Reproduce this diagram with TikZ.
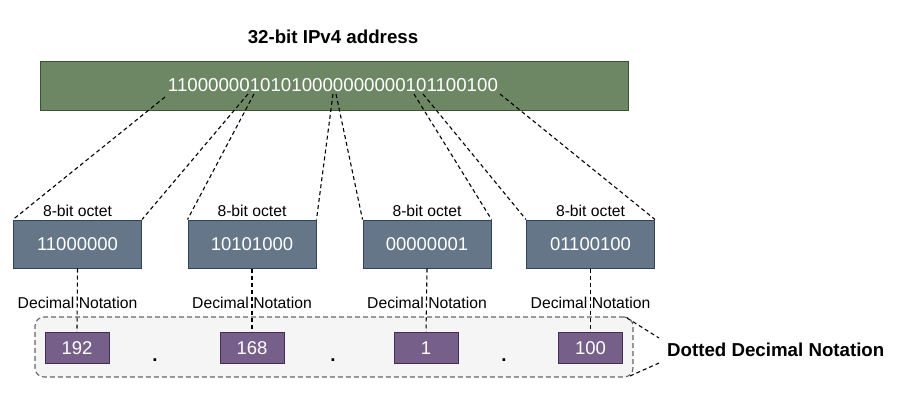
\documentclass[tikz,border=0pt]{standalone}
\usepackage{fontspec}
\setmainfont{Liberation Sans}
\definecolor{grF}{HTML}{6D8764}
\definecolor{grS}{HTML}{3A5431}
\definecolor{octF}{HTML}{647687}
\definecolor{octS}{HTML}{314354}
\definecolor{purF}{HTML}{76608A}
\definecolor{purS}{HTML}{432D57}
\definecolor{contF}{HTML}{F5F5F5}
\definecolor{contS}{HTML}{666666}
\begin{document}
\begin{tikzpicture}[x=1pt,y=-1pt,
  dl/.style={draw=black, line width=1.1pt, dash pattern=on 4pt off 3pt},
  bigtxt/.style={font=\fontsize{18.5}{20}\selectfont},
  boldtxt/.style={font=\bfseries\fontsize{18.7}{20}\selectfont, inner sep=0pt, anchor=base},
  smalltxt/.style={font=\fontsize{15.7}{18}\selectfont, inner sep=0pt, anchor=base},
  octbox/.style={draw=octS, fill=octF, line width=1pt, minimum width=128pt, minimum height=48pt,
    inner sep=0pt, text=white, bigtxt, text height=13.2pt, text depth=0pt},
  decbox/.style={draw=purS, fill=purF, line width=1pt, minimum width=64pt, minimum height=31pt,
    inner sep=0pt, text=white, bigtxt, text height=13.2pt, text depth=0pt},
]
\useasboundingbox (0,0) rectangle (918,412);

% title and bar
\node[boldtxt] (title) at (333,44) {32-bit IPv4 address};
\node[draw=grS, fill=grF, line width=1pt, minimum width=588pt, minimum height=48pt, inner sep=0pt] (bar) at (334,86) {};
\node[bigtxt, text=white, inner sep=0pt, anchor=base, font=\fontsize{18.7}{20}\selectfont] (bits) at (333,91.5) {11000000101010000000000101100100};

% split points in the bit string
\coordinate (b1) at (165,97);
\coordinate (b2) at (248,94);
\coordinate (b3) at (254,94);
\coordinate (b4) at (333,94);
\coordinate (b5) at (336,94);
\coordinate (b6) at (414,94);
\coordinate (b7) at (423,94);
\coordinate (b8) at (500,94);

% octets
\node[octbox] (o1) at (77.5,244) {11000000};
\node[octbox] (o2) at (252,244) {10101000};
\node[octbox] (o3) at (427,244) {00000001};
\node[octbox] (o4) at (590.5,244) {01100100};

\foreach \i/\x in {1/77.5,2/252,3/427,4/590.5}{
  \node[smalltxt] (ol\i) at (\x,216) {8-bit octet};
  \node[smalltxt] (dn\i) at (\x,308) {Decimal Notation};
}

% fan-out lines
\draw[dl] (b1) -- (o1.north west);
\draw[dl] (b2) -- (o1.north east);
\draw[dl] (b3) -- (o2.north west);
\draw[dl] (b4) -- (o2.north east);
\draw[dl] (b5) -- (o3.north west);
\draw[dl] (b6) -- (o3.north east);
\draw[dl] (b7) -- (o4.north west);
\draw[dl] (b8) -- (o4.north east);

% container
\node[draw=contS, fill=contF, line width=1.1pt, dash pattern=on 5pt off 3pt, rounded corners=9pt,
  minimum width=598pt, minimum height=60pt, inner sep=0pt] (cont) at (334,347) {};

% decimal boxes
\node[decbox] (p1) at (77,347.5) {192};
\node[decbox] (p2) at (252,347.5) {168};
\node[decbox] (p3) at (426,347.5) {1};
\node[decbox] (p4) at (590.5,347.5) {100};

% dots
\node[boldtxt] (d1) at (155,361) {.};
\node[boldtxt] (d2) at (333,361) {.};
\node[boldtxt] (d3) at (504,361) {.};

% vertical lines
\foreach \i in {1,2,3,4}{
  \draw[dl] (o\i.south) -- (p\i.north);
}

% callout
\node[boldtxt, anchor=base west] (ddn) at (667,356.5) {Dotted Decimal Notation};
\coordinate (c1) at (627,318);
\coordinate (c2) at (659,338);
\coordinate (c3) at (630,376);
\coordinate (c4) at (659,363);
\draw[dl] (c1) -- (c2);
\draw[dl] (c3) -- (c4);
\end{tikzpicture}
\end{document}
